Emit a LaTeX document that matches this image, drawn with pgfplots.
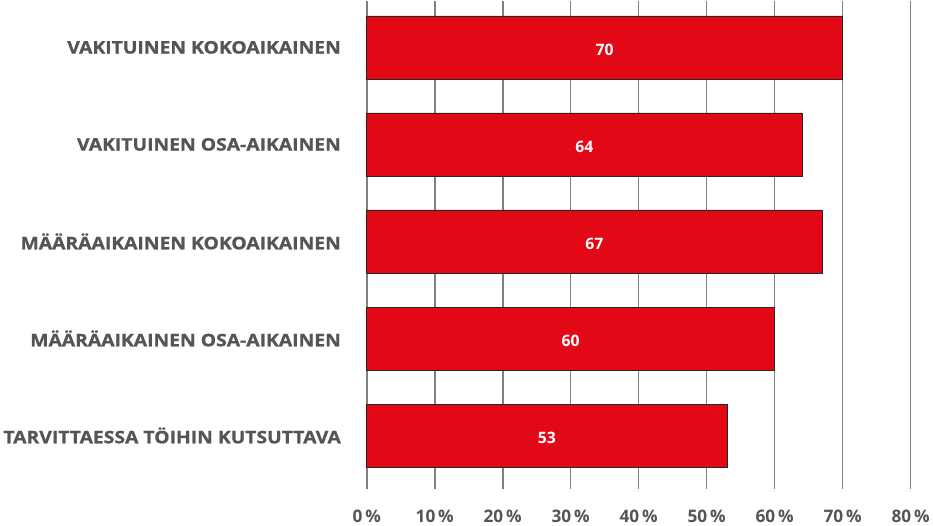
\documentclass[border=0pt]{standalone}
\usepackage{pgfplots}
\pgfplotsset{compat=1.18}
\usepackage{fontspec}
\setmainfont{Open Sans}
\newfontfamily\widefont{Open Sans}[FakeStretch=1.12, FakeBold=1]

\definecolor{barred}{RGB}{226,8,22}
\definecolor{txtgray}{RGB}{85,85,85}
\definecolor{gridgray}{RGB}{128,128,128}

\begin{document}
\begin{tikzpicture}
\begin{axis}[
  scale only axis,
  width=536pt, height=481pt,
  y dir=reverse,
  xmin=0, xmax=80,
  ymin=-0.48, ymax=4.55,
  axis line style={draw=none},
  xtick={0,10,...,80},
  xmajorgrids,
  grid style={gridgray, line width=1.6pt},
  ytick={0,1,2,3,4},
  yticklabels={VAKITUINEN KOKOAIKAINEN,VAKITUINEN OSA-AIKAINEN,MÄÄRÄAIKAINEN KOKOAIKAINEN,MÄÄRÄAIKAINEN OSA-AIKAINEN,TARVITTAESSA TÖIHIN KUTSUTTAVA},
  yticklabel style={font=\widefont\fontsize{17}{20}\selectfont\bfseries, text=txtgray, xshift=-22pt},
  xticklabel={\pgfmathprintnumber{\tick}\,\%},
  xticklabel style={font=\fontsize{17}{20}\selectfont\bfseries, text=txtgray, yshift=-17pt},
  /pgf/number format/assume math mode=true,
  major tick length=0pt,
  clip=false,
]
\addplot[xbar, bar width=62pt, bar shift=0pt, fill=barred, draw=black!85, line width=0.6pt] coordinates {
  (70,0) (64,1) (67,2) (60,3) (53,4)
};
% value labels at bar centres
\addplot[draw=none, mark=none,
  point meta=explicit,
  nodes near coords,
  every node near coord/.append style={anchor=center, text=white, yshift=-2pt, font=\fontsize{15.5}{18}\selectfont\bfseries}
] coordinates {
  (35,0) [70] (32,1) [64] (33.5,2) [67] (30,3) [60] (26.5,4) [53]
};
\end{axis}
\end{tikzpicture}
\end{document}
